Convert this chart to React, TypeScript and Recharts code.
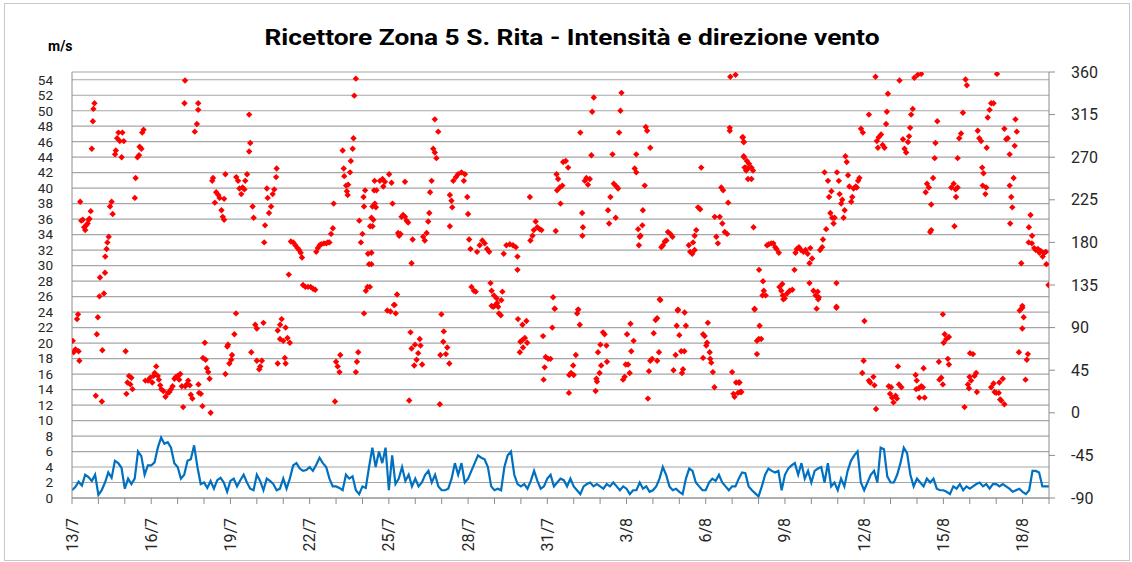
import { ComposedChart, Line, Scatter, XAxis, YAxis, CartesianGrid } from 'recharts';

// Wind speed (m/s), one reading every 3 hours from 13/7 00:00
const SPEED_STEPS_PER_DAY = 8;
const speedValues: number[] = [
  1.0, 1.4, 2.1, 1.6, 3.0, 2.7, 2.2, 3.0,
  0.4, 1.0, 2.0, 3.3, 2.6, 4.8, 4.5, 3.9,
  1.2, 2.5, 1.8, 2.5, 6.0, 5.4, 3.0, 4.2,
  4.2, 4.6, 6.5, 7.8, 7.0, 7.2, 6.5, 4.5,
  4.0, 2.5, 3.0, 4.8, 5.0, 6.8, 4.0, 1.8,
  2.0, 1.3, 2.2, 1.2, 2.3, 2.6, 2.0, 0.8,
  2.2, 2.5, 1.5, 2.3, 3.0, 2.0, 1.2, 1.0,
  3.0, 2.2, 1.0, 2.5, 2.2, 1.8, 1.0, 1.2,
  2.5, 1.2, 2.5, 4.2, 4.5, 3.8, 3.5, 3.6,
  4.0, 3.5, 4.3, 5.2, 4.5, 4.0, 2.5, 1.5,
  1.5, 1.3, 1.0, 3.0, 2.5, 2.8, 1.0, 0.5,
  1.5, 1.3, 4.0, 6.5, 4.0, 6.0, 4.5, 6.5,
  1.0, 5.5, 1.8, 2.5, 4.0, 2.2, 3.0, 1.5,
  2.5, 1.5, 2.0, 3.0, 3.5, 2.0, 3.0, 1.5,
  1.0, 1.0, 1.2, 2.5, 4.5, 3.0, 4.5, 2.0,
  2.5, 3.5, 4.5, 5.5, 5.2, 5.0, 4.0, 1.5,
  1.0, 1.2, 1.0, 4.0, 5.5, 6.0, 3.0, 1.8,
  1.5, 1.8, 1.2, 2.2, 3.5, 2.2, 1.2, 1.5,
  2.5, 3.0, 1.5, 2.0, 2.5, 2.3, 1.5, 2.5,
  1.5, 1.0, 0.5, 1.5, 1.8, 2.0, 1.5, 1.8,
  1.5, 1.2, 1.8, 1.5, 2.0, 1.5, 1.0, 1.5,
  1.2, 0.5, 1.0, 1.0, 2.0, 1.2, 1.5, 0.8,
  1.0, 1.5, 2.5, 4.0, 3.0, 1.5, 1.0, 1.2,
  0.8, 0.5, 2.5, 3.8, 3.5, 2.0, 1.5, 1.0,
  1.0, 2.0, 2.5, 2.2, 3.0, 2.0, 1.5, 1.0,
  1.5, 1.5, 2.5, 3.3, 3.2, 1.5, 1.0, 0.6,
  0.2, 1.5, 3.0, 3.8, 3.5, 3.3, 3.5, 1.0,
  3.0, 3.8, 4.2, 4.5, 3.0, 4.5, 2.5, 3.5,
  2.0, 3.5, 3.8, 4.0, 2.0, 4.5, 1.5, 2.0,
  1.0, 2.5, 1.5, 3.5, 4.8, 5.5, 6.0, 2.0,
  1.0, 2.0, 3.0, 3.5, 2.0, 6.5, 6.3, 2.8,
  2.0, 2.0, 3.0, 4.5, 6.5, 5.8, 3.0, 1.5,
  2.5, 2.0, 1.5, 2.5, 2.0, 2.5, 1.2, 1.0,
  1.0, 0.8, 0.5, 1.5, 1.2, 1.8, 1.0, 1.5,
  1.2, 1.5, 1.8, 2.0, 1.5, 1.8, 1.2, 1.8,
  1.8, 1.5, 1.8, 1.5, 1.2, 0.8, 1.0, 1.2,
  0.8, 0.5, 1.0, 3.5, 3.5, 3.3, 1.5, 1.5,
  1.5,
];

// Wind direction (degrees): [days since 13/7, direction]
const directionPoints: [number, number][] = [
  [0.03, 76], [0.06, 64], [0.13, 67], [0.25, 65], [0.28, 55], [0.19, 99], [0.23, 104], [0.31, 223],
  [0.35, 203], [0.41, 204], [0.46, 196], [0.5, 193], [0.54, 198], [0.59, 200], [0.63, 204], [0.66, 205],
  [0.71, 213], [0.75, 279], [0.79, 308], [0.81, 321], [0.85, 327], [0.9, 18], [0.94, 83], [0.98, 101],
  [1.04, 123], [1.13, 12], [1.15, 66], [1.06, 143], [1.21, 126], [1.25, 148], [1.26, 165], [1.31, 173],
  [1.34, 180], [1.39, 186], [1.44, 218], [1.5, 223], [1.54, 210], [1.63, 273], [1.66, 277], [1.71, 290],
  [1.76, 296], [1.81, 287], [1.88, 270], [1.91, 296], [1.96, 287], [2.03, 65], [2.06, 20], [2.1, 32],
  [2.16, 39], [2.21, 30], [2.29, 25], [2.25, 37], [2.38, 227], [2.41, 248], [2.48, 270], [2.54, 272],
  [2.56, 281], [2.63, 279], [2.66, 296], [2.71, 299], [2.78, 34], [2.88, 34], [2.96, 37], [3.04, 32],
  [3.09, 39], [3.13, 42], [3.19, 49], [3.25, 39], [3.29, 35], [3.34, 29], [3.38, 25], [3.46, 23],
  [3.54, 17], [3.63, 21], [3.69, 22], [3.75, 25], [3.81, 28], [3.88, 36], [3.94, 38], [4.0, 39],
  [4.06, 35], [4.1, 41], [4.16, 28], [4.21, 6], [4.29, 28], [4.34, 30], [4.4, 34], [4.46, 29],
  [4.5, 19], [4.56, 15], [4.28, 351], [4.26, 327], [4.78, 327], [4.78, 320], [4.73, 305], [4.65, 297],
  [4.79, 30], [4.81, 21], [4.88, 20], [4.94, 7], [4.96, 58], [5.03, 74], [5.06, 56], [5.11, 47],
  [5.16, 43], [5.21, 36], [5.25, 0], [5.31, 245], [5.34, 248], [5.41, 222], [5.46, 233], [5.54, 230],
  [5.59, 227], [5.66, 214], [5.71, 207], [5.76, 204], [5.76, 226], [5.81, 252], [5.81, 41], [5.88, 70],
  [5.91, 72], [5.96, 52], [6.03, 56], [6.06, 61], [6.15, 83], [6.21, 105], [6.22, 249], [6.29, 245],
  [6.34, 237], [6.41, 231], [6.46, 238], [6.53, 236], [6.56, 245], [6.63, 252], [6.71, 315], [6.75, 285],
  [6.71, 276], [6.79, 64], [6.84, 218], [6.88, 206], [6.94, 93], [7.0, 89], [7.0, 55], [7.09, 46],
  [7.13, 49], [7.19, 55], [7.25, 95], [7.28, 180], [7.31, 198], [7.38, 237], [7.41, 227], [7.46, 211],
  [7.54, 218], [7.6, 231], [7.66, 236], [7.73, 249], [7.75, 258], [7.79, 87], [7.88, 93], [7.94, 99],
  [7.88, 78], [8.0, 76], [8.09, 90], [8.06, 58], [8.09, 52], [7.79, 52], [8.16, 79], [8.25, 74],
  [8.21, 146], [8.29, 181], [8.38, 180], [8.46, 177], [8.54, 174], [8.6, 172], [8.66, 169], [8.71, 164],
  [8.75, 135], [8.84, 133], [8.94, 133], [9.04, 133], [9.13, 131], [9.21, 130], [9.25, 170], [9.31, 174],
  [9.38, 177], [9.44, 178], [9.54, 179], [9.63, 179], [9.69, 180], [9.75, 180], [9.81, 189], [9.88, 195],
  [9.91, 221], [9.96, 12], [10.0, 54], [10.06, 49], [10.13, 43], [10.16, 61], [10.25, 277], [10.29, 258],
  [10.31, 250], [10.38, 240], [10.41, 234], [10.44, 230], [10.46, 241], [10.53, 254], [10.56, 266], [10.63, 279],
  [10.66, 290], [10.69, 335], [10.75, 353], [10.75, 43], [10.79, 54], [10.84, 64], [10.88, 203], [10.94, 180],
  [11.0, 189], [11.04, 228], [11.06, 218], [11.06, 105], [11.1, 235], [11.13, 129], [11.19, 133], [11.21, 168],
  [11.25, 157], [11.29, 197], [11.34, 206], [11.38, 218], [11.44, 235], [11.46, 245],
  [11.53, 235], [11.66, 245], [11.76, 247], [11.85, 244], [11.79, 239], [12.01, 252], [12.1, 243], [12.14, 221],
  [11.47, 221], [11.51, 217], [11.41, 204], [11.38, 197], [11.34, 169], [11.34, 157], [11.28, 133], [12.31, 125],
  [12.22, 114], [12.39, 187], [12.35, 190], [12.44, 189], [12.48, 207], [12.54, 209], [12.61, 207], [12.67, 203],
  [12.73, 201], [12.61, 244], [12.9, 183], [12.86, 158], [13.3, 186], [13.36, 182], [13.43, 190], [13.49, 202],
  [13.53, 211], [13.56, 233], [13.62, 245], [13.68, 279], [13.74, 275], [13.8, 269], [13.74, 310], [13.87, 297],
  [14.31, 230], [14.37, 224], [14.4, 217], [14.31, 197], [14.44, 245], [14.54, 249], [14.62, 252], [14.75, 254],
  [14.88, 252], [14.84, 245], [14.97, 228], [15.0, 210], [15.04, 183], [15.09, 173], [15.13, 133], [15.22, 129],
  [15.29, 128], [15.34, 170], [15.44, 177], [15.54, 182], [15.63, 179], [15.72, 173], [15.8, 170], [15.85, 137],
  [15.89, 129], [15.98, 124], [16.08, 121], [16.14, 112], [16.26, 119], [16.3, 128], [15.95, 112], [16.35, 168],
  [16.45, 177], [16.58, 178], [16.7, 177], [16.81, 175], [16.87, 165], [16.87, 151], [17.34, 228], [17.36, 182],
  [17.44, 187], [17.49, 193], [17.56, 202], [17.62, 196], [17.71, 194], [17.78, 193], [18.22, 122], [18.28, 110],
  [18.32, 192], [18.35, 252], [18.41, 247], [18.37, 235], [18.47, 238], [18.57, 240], [18.5, 221], [18.6, 265],
  [18.7, 266], [18.79, 259], [19.17, 109], [19.25, 296], [19.32, 211], [19.35, 196], [19.33, 187], [19.42, 245],
  [19.48, 248], [19.54, 241], [19.61, 247], [19.67, 272], [19.7, 318], [19.76, 333], [20.3, 214], [20.34, 200],
  [20.39, 228], [20.47, 273], [20.52, 242], [20.59, 206], [20.62, 239], [20.68, 237], [20.72, 296], [20.77, 319],
  [20.81, 338], [21.37, 273], [21.31, 258], [21.37, 254], [21.47, 177], [21.44, 194], [21.5, 186], [21.53, 187],
  [21.6, 198], [21.62, 214], [21.69, 240], [21.73, 302], [21.78, 298], [21.9, 280], [22.26, 120], [22.32, 175],
  [22.38, 177], [22.45, 181], [22.51, 182], [22.57, 191], [22.66, 189], [22.74, 186], [22.95, 109], [23.36, 177],
  [23.41, 170], [23.49, 168], [23.58, 172], [23.52, 180], [23.58, 187], [23.64, 193], [23.71, 217], [23.79, 215],
  [23.83, 259], [24.34, 207], [24.4, 186], [24.46, 179], [24.53, 207], [24.63, 200], [24.59, 238], [24.66, 235],
  [24.72, 191], [24.81, 189], [24.85, 222], [24.91, 298], [24.91, 301], [24.93, 355], [25.13, 357], [25.39, 291],
  [25.44, 286], [25.45, 270], [25.51, 259], [25.53, 256], [25.6, 247],
  [11.94, 108], [12.19, 114], [12.26, 105], [12.06, 107], [12.77, 13], [12.82, 85], [12.86, 68], [12.99, 72],
  [13.05, 56], [13.11, 63], [13.17, 78], [13.2, 71], [12.96, 50], [13.26, 51], [13.93, 9], [13.99, 104],
  [14.08, 86], [14.06, 75], [13.95, 61], [14.16, 62], [14.21, 69], [14.29, 52], [15.89, 113], [16.01, 113],
  [16.1, 116], [16.17, 105], [16.24, 103], [16.89, 99], [17.06, 93], [17.21, 97], [16.98, 75], [17.06, 77],
  [17.15, 79], [17.24, 74], [17.08, 69], [16.96, 64], [17.84, 81], [17.94, 59], [18.03, 57], [18.12, 57],
  [17.9, 48], [17.86, 35], [18.19, 90], [18.28, 110], [18.82, 21], [18.9, 42], [18.98, 50], [18.83, 40],
  [19.0, 40], [19.08, 61], [19.13, 105], [19.17, 109], [19.23, 93], [19.83, 23], [19.86, 36], [19.88, 33],
  [19.98, 42], [20.04, 50], [19.92, 64], [20.01, 72], [20.11, 85], [20.17, 83], [20.24, 71], [20.26, 54],
  [20.87, 35], [20.93, 38], [20.97, 51], [21.06, 51], [21.12, 42], [21.02, 83], [21.15, 94], [21.27, 76],
  [21.18, 65], [21.81, 15], [21.85, 44], [21.9, 55], [21.97, 57], [22.03, 84], [22.1, 98], [22.16, 100],
  [22.23, 64], [22.16, 55], [22.28, 119], [22.78, 45], [22.86, 61], [22.9, 92], [22.94, 108], [23.0, 82],
  [23.07, 65], [23.14, 46], [23.19, 65], [23.1, 42], [23.2, 106], [23.25, 92], [23.9, 83], [23.96, 81],
  [24.02, 71], [24.05, 74], [24.08, 95], [24.15, 64], [23.9, 58], [24.17, 57], [24.21, 53], [24.27, 43],
  [24.33, 27], [25.0, 43], [25.05, 20], [25.09, 17], [25.15, 32], [25.25, 32], [25.22, 21], [25.31, 22],
  [25.41, 291], [25.44, 286], [25.44, 271], [25.56, 266], [25.64, 263], [25.47, 259], [25.6, 258], [25.73, 259],
  [25.79, 256], [25.73, 247], [25.81, 196], [25.85, 110], [26.02, 151], [26.17, 139], [26.2, 129], [26.15, 124],
  [26.27, 124], [26.32, 177], [26.39, 178], [26.48, 179], [26.56, 179], [26.63, 175], [26.68, 173], [26.77, 169],
  [26.79, 133], [26.86, 129], [26.92, 124], [26.99, 121], [27.08, 126], [27.18, 129], [27.28, 130], [26.9, 136],
  [27.36, 151], [27.4, 169], [27.45, 173], [27.53, 175], [27.61, 172], [27.7, 170], [27.78, 172], [27.86, 168],
  [27.93, 158], [27.96, 174], [28.03, 163], [27.93, 137], [28.08, 129], [28.16, 124], [28.24, 128], [28.28, 122],
  [28.2, 110], [28.33, 172], [28.41, 175], [28.44, 183], [28.5, 254], [28.56, 194], [28.63, 245], [28.67, 228],
  [28.72, 211], [28.76, 234], [28.79, 206], [28.84, 200], [28.88, 206], [28.95, 137], [28.95, 111], [28.97, 254],
  [29.04, 245], [29.07, 231], [29.13, 221], [29.17, 225], [29.22, 206], [29.26, 214], [29.29, 271], [29.34, 265],
  [29.39, 251], [29.44, 239], [29.51, 223], [29.55, 228], [29.6, 237], [29.68, 239], [29.72, 238], [29.77, 245],
  [29.82, 248], [29.88, 300], [29.95, 296], [30.18, 315], [30.43, 355], [30.48, 287], [30.55, 291], [30.52, 280],
  [30.64, 294], [30.7, 283], [30.77, 280], [30.83, 305], [30.86, 318], [30.9, 337], [31.34, 351], [31.47, 289],
  [31.53, 279], [31.59, 275], [31.66, 286], [31.7, 292], [31.74, 301], [31.78, 315], [31.84, 321], [31.9, 354],
  [32.03, 357], [32.16, 358], [32.33, 233], [32.38, 242], [32.45, 238], [32.54, 220], [32.5, 191], [32.54, 193],
  [32.61, 248], [32.67, 269], [32.7, 285], [32.77, 308], [33.3, 238], [33.39, 242], [33.46, 236], [33.54, 238],
  [33.48, 228], [33.42, 197], [33.54, 269], [33.6, 290], [33.67, 295], [33.74, 317], [33.84, 352], [33.89, 346],
  [34.3, 298], [34.36, 290], [34.43, 287], [34.64, 280], [34.47, 259], [34.52, 253], [34.49, 240], [34.62, 238],
  [34.59, 231], [34.68, 312], [34.75, 320], [34.81, 327], [34.9, 327], [35.03, 358], [35.31, 300], [35.38, 289],
  [35.44, 290], [35.51, 273], [35.51, 240], [35.57, 228], [35.61, 217], [35.53, 200], [35.66, 248], [35.7, 282],
  [35.73, 310], [35.78, 297], [35.95, 158], [35.99, 111], [36.3, 209], [36.24, 196], [36.36, 187], [36.23, 180],
  [36.35, 179], [36.44, 174], [36.5, 172], [36.58, 173], [36.64, 169], [36.69, 171], [36.76, 165], [36.82, 169],
  [36.88, 170], [36.9, 157], [36.98, 135],
  [25.85, 109], [26.04, 92], [25.94, 76], [26.01, 78], [26.1, 78], [25.94, 62], [25.28, 32], [25.35, 22],
  [26.94, 120], [28.26, 120], [28.95, 112], [30.01, 97], [29.98, 55], [29.93, 42], [30.18, 34], [30.23, 32],
  [30.35, 38], [30.39, 29], [30.45, 4], [30.93, 28], [31.02, 27], [30.98, 20], [31.06, 16], [31.11, 11],
  [31.19, 18], [31.24, 15], [31.28, 49], [31.32, 30], [31.41, 27], [31.95, 40], [31.99, 34], [31.97, 25],
  [32.07, 26], [32.09, 16], [32.16, 28], [32.22, 27], [32.25, 47], [32.29, 16], [32.83, 54], [32.85, 35],
  [32.92, 37], [32.98, 30], [32.98, 104], [33.01, 74], [33.05, 83], [33.11, 78], [33.21, 80], [33.17, 57],
  [33.21, 51], [33.8, 6], [33.93, 30], [33.97, 26], [33.99, 38], [34.05, 34], [34.01, 63], [34.12, 62],
  [34.18, 39], [34.24, 42], [34.27, 22], [34.81, 27], [34.9, 31], [34.94, 22], [35.0, 21], [35.1, 21],
  [35.15, 14], [35.19, 13], [35.31, 9], [35.12, 32], [35.25, 36], [35.86, 64], [35.89, 108], [35.99, 113],
  [36.04, 101], [35.99, 89], [36.11, 35], [36.16, 56], [36.2, 62],
];

const dateTicks = [0, 3, 6, 9, 12, 15, 18, 21, 24, 27, 30, 33, 36];
const dateLabels = ['13/7', '16/7', '19/7', '22/7', '25/7', '28/7', '31/7', '3/8', '6/8', '9/8', '12/8', '15/8', '18/8'];
const dayTicks = Array.from({ length: 38 }, (_, i) => i);
const speedTicks = [0, 2, 4, 6, 8, 10, 12, 14, 16, 18, 20, 22, 24, 26, 28, 30, 32, 34, 36, 38, 40, 42, 44, 46, 48, 50, 52, 54];
const directionTicks = [-90, -45, 0, 45, 90, 135, 180, 225, 270, 315, 360];

const FONT = 'Roboto, "Open Sans", sans-serif';
const TEXT = '#262626';

const speedData = speedValues.map((v, i) => ({ t: i / SPEED_STEPS_PER_DAY, speed: v }));
const directionData = directionPoints.map(([t, dir]) => ({ t, dir }));

function DateTick(props: any) {
  const { x, y, payload } = props;
  const idx = dateTicks.indexOf(payload.value);
  if (idx < 0) return null;
  return (
    <text x={x} y={y} transform={`rotate(-90 ${x} ${y})`} textAnchor="end" dominantBaseline="central"
      fontSize={16} fontFamily={FONT} fill={TEXT}>
      {dateLabels[idx]}
    </text>
  );
}

function Diamond(props: any) {
  const { cx, cy } = props;
  if (cx == null || cy == null) return null;
  const r = 3.2;
  return <path d={`M${cx},${cy - r}L${cx + r},${cy}L${cx},${cy + r}L${cx - r},${cy}Z`} fill="#ff0000" />;
}

export default function App() {
  return (
    <div style={{ position: 'absolute', left: 0, top: 0, width: 1132, height: 562, background: '#fff' }}>
      <div style={{ position: 'absolute', left: 4, top: 3, width: 1124, height: 556, border: '1px solid #c8c8c8' }} />
      <svg style={{ position: 'absolute', left: 0, top: 0 }} width={1132} height={70}>
        <text x={572} y={45} textAnchor="middle" fontFamily={FONT} fontWeight="bold" fontSize={22}
          fill="#000" textLength={615} lengthAdjust="spacingAndGlyphs">
          Ricettore Zona 5 S. Rita - Intensità e direzione vento
        </text>
        <text x={48} y={51} fontFamily={FONT} fontWeight="bold" fontSize={14} fill="#000">m/s</text>
      </svg>
      <div style={{ position: 'absolute', left: 0, top: 0 }}>
        <ComposedChart width={1132} height={562} margin={{ top: 72, right: 0, bottom: 0, left: 0 }}>
          <CartesianGrid yAxisId="left" vertical={false} stroke="#a6a6a6" strokeWidth={1.2} />
          <XAxis dataKey="t" type="number" domain={[0, 37]} ticks={dayTicks} interval={0} height={64}
            tick={<DateTick />} tickSize={6} tickMargin={14} stroke="#8c8c8c" allowDataOverflow />
          <YAxis yAxisId="left" domain={[0, 55]} ticks={speedTicks} interval={0} width={72}
            tickLine={false} tickSize={0} tickMargin={19} stroke="#8c8c8c" allowDataOverflow
            tick={{ fontSize: 13.5, fontFamily: FONT, fill: TEXT }} />
          <YAxis yAxisId="right" orientation="right" domain={[-90, 360]} ticks={directionTicks} interval={0}
            width={83} tickSize={6} tickMargin={16} stroke="#8c8c8c" allowDataOverflow
            tick={{ fontSize: 16, fontFamily: FONT, fill: TEXT }} />
          <Scatter yAxisId="right" data={directionData} dataKey="dir" shape={<Diamond />} isAnimationActive={false} />
          <Line yAxisId="left" data={speedData} dataKey="speed" type="linear" stroke="#0070c0" strokeWidth={2.2}
            dot={false} isAnimationActive={false} />
        </ComposedChart>
      </div>
    </div>
  );
}
